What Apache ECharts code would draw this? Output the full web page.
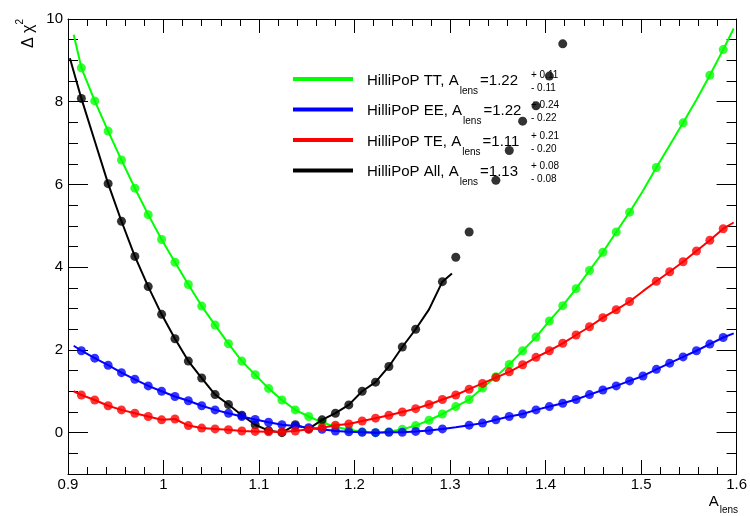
<!DOCTYPE html>
<html><head><meta charset="utf-8">
<script src="https://cdn.jsdelivr.net/npm/echarts@6/dist/echarts.min.js"></script>
<style>html,body{margin:0;padding:0;background:#fff}#c{width:750px;height:516px}</style>
</head><body><div id="c"></div>
<script>
// ---- data ----
const A_LENS = [0.914, 0.928, 0.942, 0.956, 0.970, 0.984, 0.998, 1.012, 1.026, 1.040,
  1.054, 1.068, 1.082, 1.096, 1.110, 1.124, 1.138, 1.152, 1.166, 1.180,
  1.194, 1.208, 1.222, 1.236, 1.250, 1.264, 1.278, 1.292, 1.306, 1.320,
  1.334, 1.348, 1.362, 1.376, 1.390, 1.404, 1.418, 1.432, 1.446, 1.460,
  1.474, 1.488, 1.502, 1.516, 1.530, 1.544, 1.558, 1.572, 1.586];

const TT_POINTS = [8.82, 8.02, 7.29, 6.59, 5.91, 5.27, 4.67, 4.12, 3.58, 3.06,
  2.60, 2.15, 1.73, 1.40, 1.07, 0.79, 0.55, 0.39, 0.25, 0.14,
  0.07, 0.02, 0.00, 0.02, 0.08, 0.17, 0.30, 0.45, 0.63, 0.80,
  1.08, 1.35, 1.65, 1.98, 2.31, 2.70, 3.07, 3.48, 3.92, 4.36,
  4.85, 5.33, null, 6.41, null, 7.49, null, 8.64, 9.26];
const TT_CURVE = [8.82, 8.02, 7.29, 6.59, 5.91, 5.27, 4.67, 4.12, 3.58, 3.06,
  2.60, 2.15, 1.73, 1.40, 1.07, 0.79, 0.55, 0.39, 0.25, 0.14,
  0.07, 0.02, 0.00, 0.02, 0.08, 0.17, 0.30, 0.45, 0.63, 0.80,
  1.08, 1.35, 1.65, 1.98, 2.31, 2.70, 3.07, 3.48, 3.92, 4.36,
  4.85, 5.33, 5.85, 6.41, 6.95, 7.49, 8.05, 8.64, 9.26];
const TT_ENDS = [[0.906, 9.62], [1.597, 9.77]];

const EE_POINTS = [1.98, 1.80, 1.63, 1.45, 1.29, 1.13, 1.00, 0.875, 0.77, 0.65,
  0.55, 0.47, 0.39, 0.32, 0.25, 0.19, 0.16, 0.12, 0.08, 0.04,
  0.02, 0.01, 0.00, 0.01, 0.01, 0.03, 0.05, 0.09, null, 0.18,
  0.23, 0.31, 0.39, 0.45, 0.55, 0.63, 0.71, 0.80, 0.92, 1.03,
  1.13, 1.25, 1.37, 1.53, 1.68, 1.83, 1.98, 2.14, 2.30];
const EE_CURVE = [1.98, 1.80, 1.63, 1.45, 1.29, 1.13, 1.00, 0.875, 0.77, 0.65,
  0.55, 0.47, 0.39, 0.32, 0.25, 0.19, 0.16, 0.12, 0.08, 0.04,
  0.02, 0.01, 0.00, 0.01, 0.01, 0.03, 0.05, 0.09, 0.13, 0.18,
  0.23, 0.31, 0.39, 0.45, 0.55, 0.63, 0.71, 0.80, 0.92, 1.03,
  1.13, 1.25, 1.37, 1.53, 1.68, 1.83, 1.98, 2.14, 2.30];
const EE_ENDS = [[0.906, 2.10], [1.597, 2.40]];

const TE_POINTS = [0.91, 0.79, 0.65, 0.55, 0.47, 0.39, 0.31, 0.33, 0.17, 0.11,
  0.09, 0.07, 0.04, 0.03, 0.02, 0.02, 0.04, 0.08, 0.12, 0.18,
  0.21, 0.28, 0.35, 0.42, 0.50, 0.58, 0.68, 0.80, 0.91, 1.05,
  1.19, 1.33, 1.47, 1.64, 1.82, 1.98, 2.16, 2.36, 2.56, 2.78,
  2.97, 3.17, null, 3.66, 3.89, 4.13, 4.39, 4.65, 4.93];
const TE_CURVE = [0.91, 0.79, 0.65, 0.55, 0.47, 0.39, 0.31, 0.33, 0.17, 0.11,
  0.09, 0.07, 0.04, 0.03, 0.02, 0.02, 0.04, 0.08, 0.12, 0.18,
  0.21, 0.28, 0.35, 0.42, 0.50, 0.58, 0.68, 0.80, 0.91, 1.05,
  1.19, 1.33, 1.47, 1.64, 1.82, 1.98, 2.16, 2.36, 2.56, 2.78,
  2.97, 3.17, 3.42, 3.66, 3.89, 4.13, 4.39, 4.65, 4.93];
const TE_ENDS = [[0.906, 1.00], [1.597, 5.08]];

const ALL_POINTS = [8.08, null, 6.02, 5.11, 4.26, 3.53, 2.86, 2.27, 1.73, 1.32,
  0.92, 0.68, 0.42, 0.19, 0.05, 0.00, 0.19, 0.09, 0.31, 0.47,
  0.67, 1.00, 1.22, 1.60, 2.07, 2.50, null, 3.65, 4.24, 4.85,
  null, 6.10, 6.82, 7.53, 7.90, 8.62, 9.40];
const ALL_CURVE = [8.08, 7.05, 6.02, 5.11, 4.26, 3.53, 2.86, 2.27, 1.73, 1.32,
  0.92, 0.68, 0.42, 0.19, 0.05, 0.00, 0.19, 0.09, 0.31, 0.47,
  0.67, 1.00, 1.22, 1.60, 2.07, 2.50, 2.98, 3.65];
const ALL_ENDS = [[0.902, 9.05], [1.302, 3.85]];

const LEGEND_NAMES = ['HilliPoP TT', 'HilliPoP EE', 'HilliPoP TE', 'HilliPoP All'];
const LEGEND_BEST = ['1.22', '1.22', '1.11', '1.13'];
const LEGEND_PLUS = ['0.11', '0.24', '0.21', '0.08'];
const LEGEND_MINUS = ['0.11', '0.22', '0.20', '0.08'];
const X_TICKS = [0.9, 1.0, 1.1, 1.2, 1.3, 1.4, 1.5, 1.6];
const Y_MAJOR = [0, 2, 4, 6, 8, 10];

// ---- build ----
const FONT = '"Liberation Sans", Arial, Helvetica, sans-serif';
const COLORS = ['#00ff00', '#0000ff', '#ff0000', '#000000'];

function pts(xs, ys) { const o = []; for (let i = 0; i < ys.length; i++) if (ys[i] != null) o.push([xs[i], ys[i]]); return o; }
function curve(xs, ys, ends) { const o = [ends[0]]; for (let i = 0; i < ys.length; i++) o.push([xs[i], ys[i]]); o.push(ends[1]); return o; }

const sets = [
  {p: TT_POINTS, c: TT_CURVE, e: TT_ENDS, col: COLORS[0], z: 2},
  {p: ALL_POINTS, c: ALL_CURVE, e: ALL_ENDS, col: COLORS[3], z: 3},
  {p: EE_POINTS, c: EE_CURVE, e: EE_ENDS, col: COLORS[1], z: 4},
  {p: TE_POINTS, c: TE_CURVE, e: TE_ENDS, col: COLORS[2], z: 5}
];
const series = [];
sets.forEach(s => {
  series.push({type: 'line', data: curve(A_LENS, s.c, s.e), showSymbol: false, symbol: 'none',
    lineStyle: {color: s.col, width: 2}, z: s.z, silent: true, animation: false});
  series.push({type: 'scatter', data: pts(A_LENS, s.p), symbol: 'circle', symbolSize: 9,
    itemStyle: {color: s.col}, z: s.z, silent: true, animation: false});
});

const black = {color: '#000', width: 1};
const xCommon = {type: 'value', min: 0.9, max: 1.6, interval: 0.1,
  axisLine: {show: true, onZero: false, lineStyle: black},
  axisTick: {show: true, inside: true, length: 14, lineStyle: black},
  minorTick: {show: true, splitNumber: 5, length: 7, lineStyle: black},
  splitLine: {show: false}, minorSplitLine: {show: false}};
const yMinor = {type: 'value', min: -1, max: 10, interval: 0.5,
  axisLine: {show: true, onZero: false, lineStyle: black},
  axisTick: {show: true, inside: true, length: 10, lineStyle: black},
  splitLine: {show: false}};
const yMajor = {type: 'value', min: -1, max: 10, interval: 0.5,
  axisLine: {show: false},
  axisTick: {show: true, inside: true, length: 20, lineStyle: black, customValues: Y_MAJOR},
  axisLabel: {show: false}, splitLine: {show: false}};

// rich styles: 'a' normal text, 's' lowered subscript
const subRich = (big, small, drop) => ({
  a: {fontSize: big, lineHeight: big + 1, verticalAlign: 'top', fontFamily: FONT, fill: '#000'},
  s: {fontSize: small, lineHeight: big + drop, verticalAlign: 'bottom', fontFamily: FONT, fill: '#000', padding: [0, 2, 0, 1]}
});

const graphic = [];
LEGEND_NAMES.forEach((name, i) => {
  const yc = 81 + 30.5 * i;
  graphic.push({type: 'line', z: 0, shape: {x1: 293, y1: yc - 2, x2: 353, y2: yc - 2},
    style: {stroke: COLORS[i], lineWidth: 4}});
  graphic.push({type: 'text', z: 0, x: 367, y: yc - 8, style: {
    text: '{a|' + name + ', A}{s|lens}{a|=' + LEGEND_BEST[i] + '}',
    align: 'left', verticalAlign: 'top', rich: subRich(15, 10, 8)}});
  graphic.push({type: 'text', z: 0, x: 531, y: yc - 6, style: {text: '+ ' + LEGEND_PLUS[i], fontSize: 10,
    fontFamily: FONT, fill: '#000', align: 'left', verticalAlign: 'middle'}});
  graphic.push({type: 'text', z: 0, x: 531, y: yc + 7, style: {text: '- ' + LEGEND_MINUS[i], fontSize: 10,
    fontFamily: FONT, fill: '#000', align: 'left', verticalAlign: 'middle'}});
});
graphic.push({type: 'text', x: 26, y: 19, rotation: Math.PI / 2, style: {
  text: '{a|Δ χ}{s|2}', align: 'right', verticalAlign: 'middle',
  rich: {a: {fontSize: 16, lineHeight: 22, verticalAlign: 'bottom', fontFamily: FONT, fill: '#000'},
         s: {fontSize: 10, lineHeight: 8, verticalAlign: 'top', fontFamily: FONT, fill: '#000'}}}});
graphic.push({type: 'text', x: 740, y: 494, style: {
  text: '{a|A}{s|lens}', align: 'right', verticalAlign: 'top', rich: subRich(15, 10, 6)}});

const chart = echarts.init(document.getElementById('c'), null, {renderer: 'canvas'});
chart.setOption({
  animation: false,
  backgroundColor: '#fff',
  grid: {left: 68, right: 12, top: 19, bottom: 42, containLabel: false},
  xAxis: [
    Object.assign({}, xCommon, {position: 'bottom', axisLabel: {show: true, fontSize: 15, color: '#000', fontFamily: FONT, margin: 3,
      customValues: X_TICKS, formatter: v => String(+(+v).toFixed(1))}}),
    Object.assign({}, xCommon, {position: 'top', axisLabel: {show: false}})
  ],
  yAxis: [
    Object.assign({}, yMinor, {position: 'left', axisLabel: {show: true, fontSize: 15, color: '#000', fontFamily: FONT, margin: 5,
      customValues: Y_MAJOR, formatter: v => String(v)}}),
    Object.assign({}, yMajor, {position: 'left'}),
    Object.assign({}, yMinor, {position: 'right', axisLabel: {show: false}}),
    Object.assign({}, yMajor, {position: 'right'})
  ],
  graphic: graphic,
  series: series
});
</script></body></html>
